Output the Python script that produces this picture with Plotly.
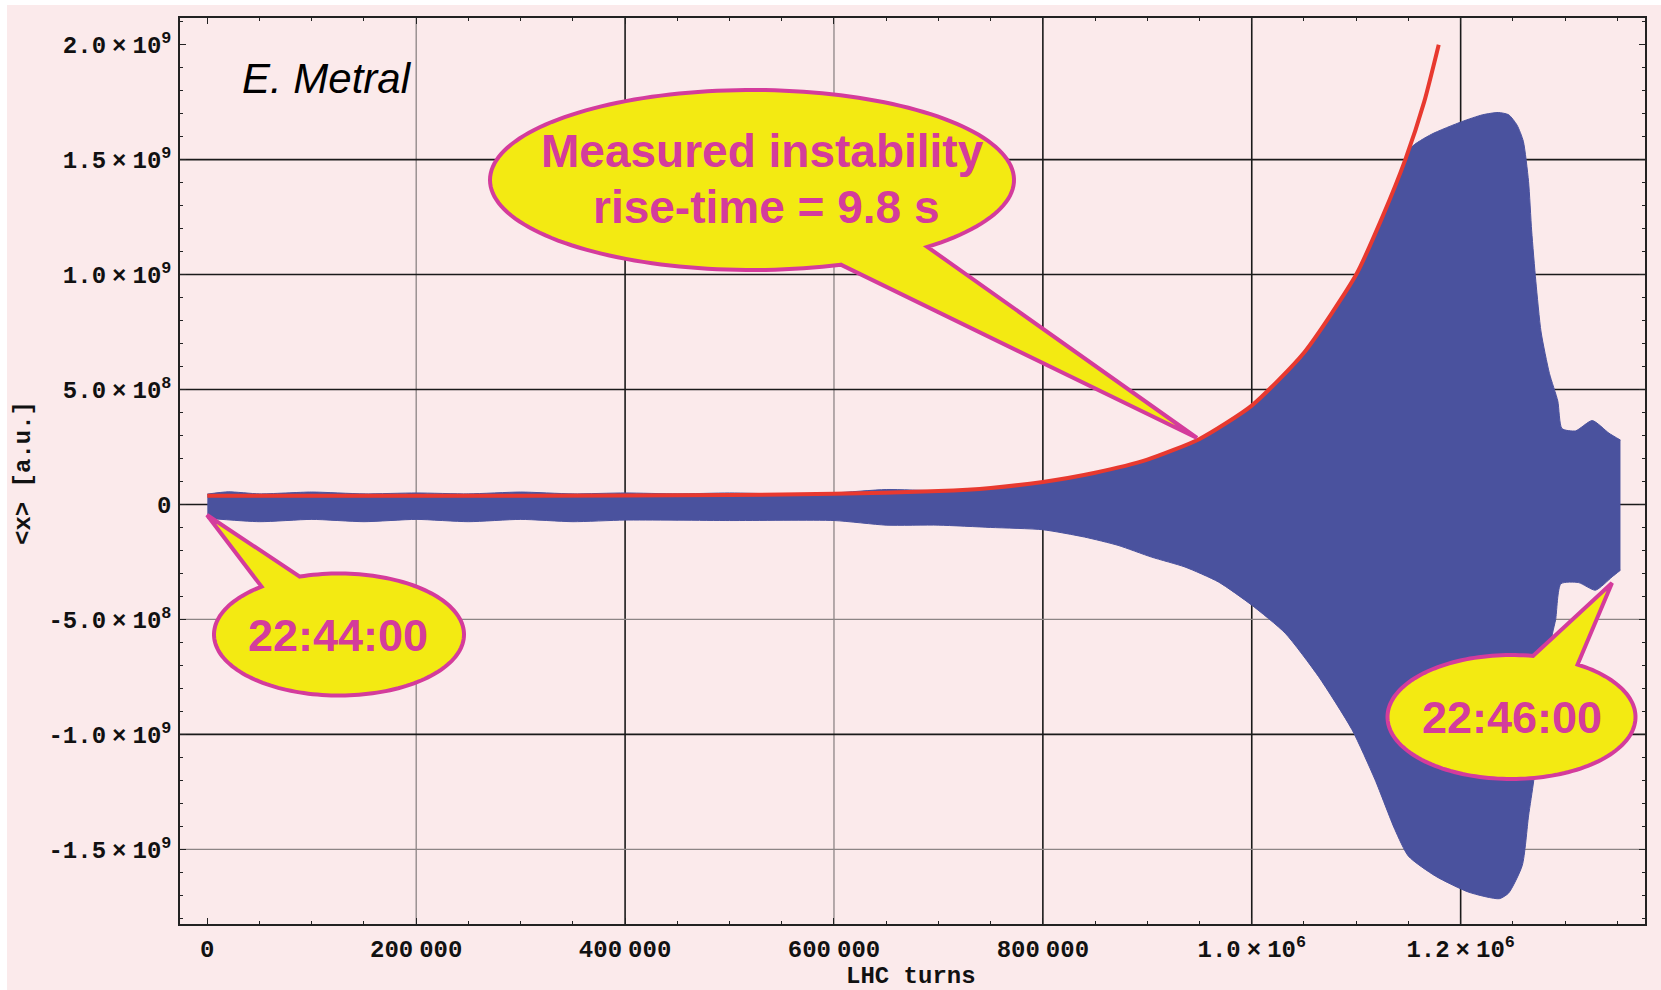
import math
import plotly.graph_objects as go

# ---------------- data ----------------
# upper envelope of the oscillating signal <x> (LHC turns, a.u.)
upper_turns = [0, 20000, 50000, 100000, 150000, 200000, 250000, 300000, 350000,
               400000, 450000, 500000, 550000, 600000, 650000, 700000, 750000,
               800000, 850000, 900000, 950000, 1000000, 1050000, 1100000,
               1130000, 1152000, 1172000, 1201000, 1221000, 1236000, 1246000,
               1254000, 1260000, 1265000, 1268000, 1272000, 1277000, 1285000,
               1293000, 1297000, 1310000, 1326000, 1342000, 1353000]
upper_amp = [4.5e7, 5.5e7, 4.6e7, 5.4e7, 4.6e7, 5.0e7, 4.6e7, 5.4e7, 4.6e7,
             5.0e7, 4.6e7, 5.0e7, 4.6e7, 5.0e7, 6.5e7, 6.0e7, 7.0e7,
             9.5e7, 1.35e8, 1.9e8, 2.78e8, 4.25e8, 6.5e8, 1.0e9,
             1.3e9, 1.55e9, 1.61e9, 1.665e9, 1.695e9, 1.705e9, 1.695e9,
             1.65e9, 1.58e9, 1.405e9, 1.19e9, 0.97e9, 7.5e8, 5.7e8,
             4.5e8, 3.3e8, 3.2e8, 3.65e8, 3.1e8, 2.8e8]

# lower envelope
lower_turns = [0, 50000, 100000, 150000, 200000, 250000, 300000, 350000, 400000,
               500000, 600000, 650000, 700000, 750000, 800000, 840000, 872000,
               904000, 936000, 968000, 1000000, 1032000, 1064000, 1096000,
               1118000, 1137000, 1150000, 1176000, 1208000, 1237000, 1246000,
               1259000, 1265000, 1270000, 1280000, 1288000, 1291000, 1296000,
               1313000, 1329000, 1345000, 1353000]
lower_amp = [-6.0e7, -7.5e7, -6.5e7, -7.5e7, -6.5e7, -7.5e7, -6.5e7, -7.5e7, -6.8e7,
             -7.0e7, -7.0e7, -9.0e7, -9.0e7, -1.0e8, -1.1e8, -1.42e8, -1.78e8,
             -2.29e8, -2.72e8, -3.37e8, -4.38e8, -5.6e8, -7.49e8, -9.8e8,
             -1.197e9, -1.414e9, -1.53e9, -1.617e9, -1.687e9, -1.715e9, -1.69e9,
             -1.57e9, -1.355e9, -1.2e9, -8.0e8, -5.6e8, -5.0e8, -3.45e8,
             -3.4e8, -3.73e8, -3.15e8, -2.86e8]

# exponential fit curve (red)
fit_turns = [0, 200000, 400000, 500000, 600000, 700000, 750000, 800000, 850000,
             900000, 950000, 1000000, 1050000, 1100000, 1125000, 1147000,
             1165000, 1179000]
fit_amp = [3.8e7, 3.8e7, 3.9e7, 4.1e7, 4.6e7, 5.8e7, 7.2e7, 9.8e7, 1.38e8,
           1.95e8, 2.85e8, 4.3e8, 6.6e8, 1.0e9, 1.25e9, 1.5e9,
           1.75e9, 2.0e9]

# ticks
x_tick_vals = [0, 200000, 400000, 600000, 800000, 1000000, 1200000]
y_tick_vals = [-1.5e9, -1.0e9, -5e8, 0, 5e8, 1.0e9, 1.5e9, 2.0e9]
SP = '<span style="font-size:10px">\u00a0</span>'
x_tick_text = ["0", "200" + SP + "000", "400" + SP + "000", "600" + SP + "000",
               "800" + SP + "000", "1.0" + SP + "×" + SP + "10<sup>6</sup>",
               "1.2" + SP + "×" + SP + "10<sup>6</sup>"]
y_tick_text = ["-1.5" + SP + "×" + SP + "10<sup>9</sup>",
               "-1.0" + SP + "×" + SP + "10<sup>9</sup>",
               "-5.0" + SP + "×" + SP + "10<sup>8</sup>",
               "0",
               "5.0" + SP + "×" + SP + "10<sup>8</sup>",
               "1.0" + SP + "×" + SP + "10<sup>9</sup>",
               "1.5" + SP + "×" + SP + "10<sup>9</sup>",
               "2.0" + SP + "×" + SP + "10<sup>9</sup>"]
grid_x_dark = [400000, 800000, 1000000, 1200000]
grid_x_light = [200000, 600000]
grid_y_dark = [-1.0e9, 0, 5e8, 1.0e9, 1.5e9]
grid_y_light = [-1.5e9, -5e8]

callout_texts = ["Measured instability", "rise-time = 9.8 s", "22:44:00", "22:46:00"]

# ---------------- styling / layout ----------------
W, H = 1661, 990
ML, MR, MT, MB = 180, 16, 18, 66
PW, PH = W - ML - MR, H - MT - MB

BG = "#FBEAEB"
BLUE = "#4A529E"
RED = "#E8392F"
YELLOW = "#F3EA12"
MAGENTA = "#D43C9C"
MONO = "Liberation Mono, Courier New, monospace"
SANS = "Liberation Sans, Arial, sans-serif"


def px2paper(px, py):
    return (px - ML) / PW, (MT + PH - py) / PH


fig = go.Figure()

# blue envelope: lower edge, then upper edge filled down to it
fig.add_trace(go.Scatter(x=lower_turns, y=lower_amp, mode="lines",
                         line=dict(color=BLUE, width=1, shape="spline", smoothing=0.6),
                         hoverinfo="skip", showlegend=False))
fig.add_trace(go.Scatter(x=upper_turns, y=upper_amp, mode="lines", fill="tonexty",
                         fillcolor=BLUE,
                         line=dict(color=BLUE, width=1, shape="spline", smoothing=0.6),
                         hoverinfo="skip", showlegend=False))
fig.add_trace(go.Scatter(x=fit_turns, y=fit_amp, mode="lines",
                         line=dict(color=RED, width=4, shape="spline", smoothing=0.6),
                         showlegend=False))

shapes = []
for gx in grid_x_dark + grid_x_light:
    shapes.append(dict(type="line", xref="x", yref="paper", x0=gx, x1=gx, y0=0, y1=1,
                       layer="below",
                       line=dict(color="#1a1a1a" if gx in grid_x_dark else "#8c8585",
                                 width=1.6 if gx in grid_x_dark else 1.3)))
for gy in grid_y_dark + grid_y_light:
    shapes.append(dict(type="line", xref="paper", yref="y", x0=0, x1=1, y0=gy, y1=gy,
                       layer="below",
                       line=dict(color="#1a1a1a" if gy in grid_y_dark else "#8c8585",
                                 width=1.6 if gy in grid_y_dark else 1.3)))

# white page border strips
x0p, _ = px2paper(0, 0)
x1p, _ = px2paper(W, 0)
_, ytop = px2paper(0, 0)
_, y5 = px2paper(0, 5)
_, ybot = px2paper(0, H)
x7, _ = px2paper(7, 0)
shapes.append(dict(type="rect", xref="paper", yref="paper", x0=x0p, x1=x1p, y0=y5, y1=ytop,
                   line=dict(width=0), fillcolor="white", layer="below"))
shapes.append(dict(type="rect", xref="paper", yref="paper", x0=x0p, x1=x7, y0=ybot, y1=ytop,
                   line=dict(width=0), fillcolor="white", layer="below"))


def callout_path(cx, cy, rx, ry, a0, a1, tip, n=160):
    pts = []
    for i in range(n + 1):
        t = math.radians(a0 + (a1 - a0) * i / n)
        pts.append(px2paper(cx + rx * math.cos(t), cy + ry * math.sin(t)))
    pts.append(px2paper(*tip))
    return "M " + " L ".join(f"{x:.5f},{y:.5f}" for x, y in pts) + " Z"


callouts = [
    (752, 180, 262, 90, 70.2, 408.0, (1197, 438)),
    (339, 634.5, 125, 61, 251.7, 591.7, (207, 515)),
    (1511.5, 717, 124, 62, 302.2, 640.0, (1612, 583)),
]
for cx, cy, rx, ry, a0, a1, tip in callouts:
    shapes.append(dict(type="path", xref="paper", yref="paper",
                       path=callout_path(cx, cy, rx, ry, a0, a1, tip),
                       fillcolor=YELLOW, line=dict(color=MAGENTA, width=4), layer="above"))

annotations = []


def add_text(text, px, py, size, family, color, xanchor="center", weight="bold",
             style="normal", angle=0):
    x, y = px2paper(px, py)
    annotations.append(dict(text=text, x=x, y=y, xref="paper", yref="paper",
                            xanchor=xanchor, yanchor="middle", showarrow=False,
                            textangle=angle,
                            font=dict(family=family, size=size, color=color,
                                      weight=weight, style=style)))


add_text(callout_texts[0], 762, 151, 46, SANS, MAGENTA)
add_text(callout_texts[1], 766, 207, 46, SANS, MAGENTA)
add_text(callout_texts[2], 338, 636, 45, SANS, MAGENTA)
add_text(callout_texts[3], 1512, 717, 45, SANS, MAGENTA)
add_text("E. Metral", 240, 78, 42, SANS, "black", xanchor="left", weight="normal",
         style="italic")
add_text("LHC turns", 911, 976, 24, MONO, "#111111")
add_text("&lt;x&gt; [a.u.]", 23, 473, 24, MONO, "#111111", angle=-90)

axis_common = dict(showgrid=False, zeroline=False, showline=True, linecolor="#222222",
                   linewidth=1.6, mirror="ticks", ticks="inside", ticklen=6,
                   tickwidth=1.4, tickcolor="#222222",
                   tickfont=dict(family=MONO, size=24, color="#111111", weight="bold"))

fig.update_layout(
    width=W, height=H,
    margin=dict(l=ML, r=MR, t=MT, b=MB, pad=0),
    paper_bgcolor=BG, plot_bgcolor=BG,
    showlegend=False,
    xaxis=dict(range=[-26150, 1376500], tickmode="array", tickvals=x_tick_vals,
               ticktext=x_tick_text, ticklabelstandoff=2,
               minor=dict(ticks="inside", ticklen=3, tickwidth=1.2, tickcolor="#222222",
                          dtick=50000, tick0=0, showgrid=False),
               **axis_common),
    yaxis=dict(range=[-1.825e9, 2.116e9], tickmode="array", tickvals=y_tick_vals,
               ticktext=y_tick_text, ticklabelstandoff=2,
               minor=dict(ticks="inside", ticklen=3, tickwidth=1.2, tickcolor="#222222",
                          dtick=1e8, tick0=0, showgrid=False),
               **axis_common),
    shapes=shapes,
    annotations=annotations,
)

fig.write_html("out.html")
